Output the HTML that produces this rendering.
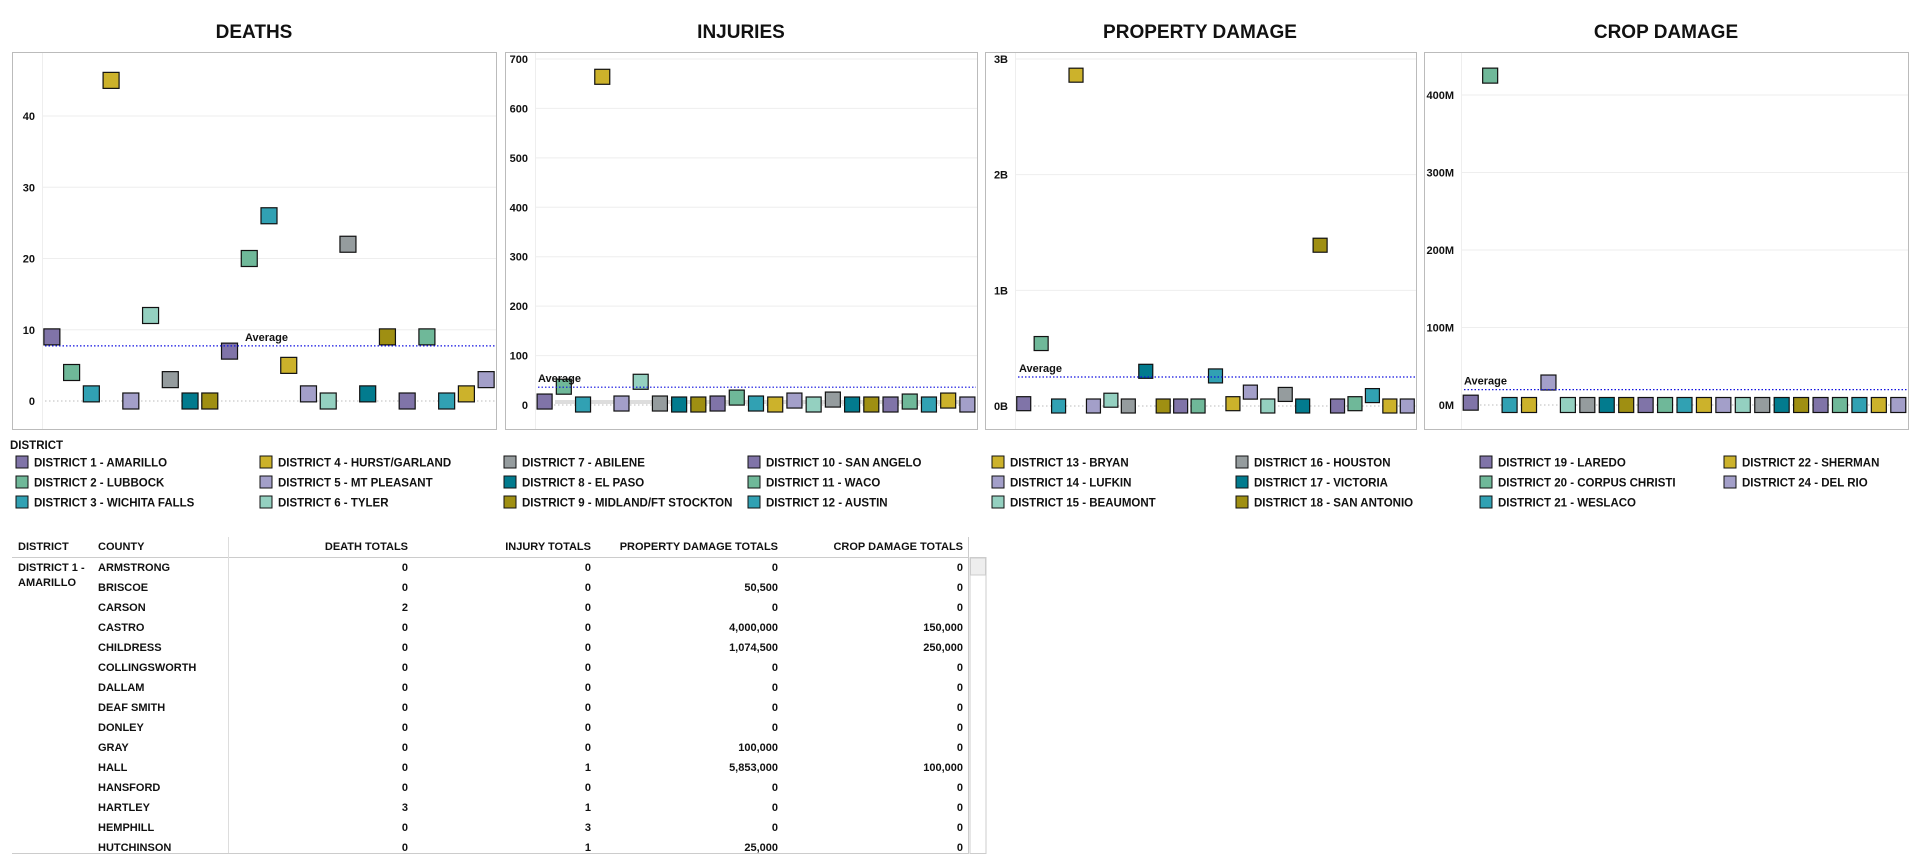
<!DOCTYPE html>
<html><head><meta charset="utf-8"><style>
body{margin:0;background:#fff;}
svg{display:block;font-family:"Liberation Sans",Arial,sans-serif;}
</style></head><body>
<svg id="s" width="1920" height="867" xmlns="http://www.w3.org/2000/svg"></svg>
<script>
const districts=["DISTRICT 1 - AMARILLO","DISTRICT 2 - LUBBOCK","DISTRICT 3 - WICHITA FALLS","DISTRICT 4 - HURST/GARLAND","DISTRICT 5 - MT PLEASANT","DISTRICT 6 - TYLER","DISTRICT 7 - ABILENE","DISTRICT 8 - EL PASO","DISTRICT 9 - MIDLAND/FT STOCKTON","DISTRICT 10 - SAN ANGELO","DISTRICT 11 - WACO","DISTRICT 12 - AUSTIN","DISTRICT 13 - BRYAN","DISTRICT 14 - LUFKIN","DISTRICT 15 - BEAUMONT","DISTRICT 16 - HOUSTON","DISTRICT 17 - VICTORIA","DISTRICT 18 - SAN ANTONIO","DISTRICT 19 - LAREDO","DISTRICT 20 - CORPUS CHRISTI","DISTRICT 21 - WESLACO","DISTRICT 22 - SHERMAN","DISTRICT 24 - DEL RIO"];
const districtColors=["#8074a8","#6fb899","#31a1b3","#ccb22b","#a39fc9","#94d0c0","#959c9e","#027b8e","#9f8f12","#8074a8","#6fb899","#31a1b3","#ccb22b","#a39fc9","#94d0c0","#959c9e","#027b8e","#9f8f12","#8074a8","#6fb899","#31a1b3","#ccb22b","#a39fc9"];
const deaths=[9,4,1,45,0,12,3,0,0,7,20,26,5,1,0,22,1,9,0,9,0,1,3];
const injuries=[7,37,1,664,3,47,3,1,1,3,15,3,1,9,1,11,1,1,1,7,1,9,1];
const propertyB=[0.02,0.54,0,2.86,0,0.05,0,0.30,0,0,0,0.26,0.02,0.12,0,0.10,0,1.39,0,0.02,0.09,0,0];
const cropM=[3,425,0,0,29,0,0,0,0,0,0,0,0,0,0,0,0,0,0,0,0,0,0];
const deathTicks=[0,10,20,30,40];
const injuryTicks=[0,100,200,300,400,500,600,700];
const propTicks=[0,1,2,3];const propTickLabels=["0B","1B","2B","3B"];
const cropTicks=[0,100,200,300,400];const cropTickLabels=["0M","100M","200M","300M","400M"];
const tableCounties=["ARMSTRONG","BRISCOE","CARSON","CASTRO","CHILDRESS","COLLINGSWORTH","DALLAM","DEAF SMITH","DONLEY","GRAY","HALL","HANSFORD","HARTLEY","HEMPHILL","HUTCHINSON"];
const tableDeaths=["0","0","2","0","0","0","0","0","0","0","0","0","3","0","0"];
const tableInjuries=["0","0","0","0","0","0","0","0","0","0","1","0","1","3","1"];
const tableProperty=["0","50,500","0","4,000,000","1,074,500","0","0","0","0","100,000","5,853,000","0","0","0","25,000"];
const tableCrop=["0","0","0","150,000","250,000","0","0","0","0","0","100,000","0","0","0","0"];

const S=document.getElementById('s');const NS="http://www.w3.org/2000/svg";
function mk(tag,attrs,parent){const e=document.createElementNS(NS,tag);for(const k in attrs)e.setAttribute(k,attrs[k]);(parent||S).appendChild(e);return e;}
function txt(x,y,str,size,anchor,parent){const t=mk('text',{x:x,y:y,'font-size':size,'font-weight':'bold','text-anchor':anchor||'start',fill:'#111'},parent);t.textContent=str;return t;}

const charts=[
 {name:'deaths',title:'DEATHS',tx:254,fx0:12,fx1:496,pl:42,zeroY:401,topV:40,topY:116,vals:deaths,ticks:deathTicks,labels:deathTicks.map(String),avgX:245,sq:16},
 {name:'injuries',title:'INJURIES',tx:741,fx0:505,fx1:977,pl:535,zeroY:405,topV:700,topY:59,vals:injuries,ticks:injuryTicks,labels:injuryTicks.map(String),avgX:538,sq:15,band:true},
 {name:'property-damage',title:'PROPERTY DAMAGE',tx:1200,fx0:985,fx1:1416,pl:1015,zeroY:406,topV:3,topY:59,vals:propertyB,ticks:propTicks,labels:propTickLabels,avgX:1019,sq:14},
 {name:'crop-damage',title:'CROP DAMAGE',tx:1666,fx0:1424,fx1:1908,pl:1461,zeroY:405,topV:400,topY:95,vals:cropM,ticks:cropTicks,labels:cropTickLabels,avgX:1464,sq:15}
];
charts.forEach(c=>{
 const g=mk('g',{});
 
 
 const t=txt(c.tx,38,c.title,19,'middle',g);
 
 
 const fr=mk('rect',{x:c.fx0+0.5,y:52.5,width:c.fx1-c.fx0,height:377,fill:'none',stroke:'#bbb','stroke-width':1},g);
 
 
 mk('line',{x1:c.pl+0.5,x2:c.pl+0.5,y1:53,y2:429,stroke:'#eee'},g);
 const y=v=>c.zeroY-v*(c.zeroY-c.topY)/c.topV;
 const band=(c.fx1-c.pl)/c.vals.length;
 const x=i=>c.pl+band*(i+0.5);
 c.ticks.forEach((tv,i)=>{
  const yy=y(tv);
  if(tv!==0)mk('line',{x1:c.pl,x2:c.fx1,y1:yy,y2:yy,stroke:'#eee'},g);
  else mk('line',{x1:c.pl+3,x2:c.fx1,y1:yy,y2:yy,stroke:'#bbb','stroke-dasharray':'1.5,2.5'},g);
  const l=txt(c.pl-7,yy+4,c.labels[i],11,'end',g);
  
  
 });
 if(c.band){const bb=mk('line',{x1:c.pl+20,x2:c.fx1-4,y1:y(0)-3,y2:y(0)-3,stroke:'#ddd','stroke-width':4},g);}
 const avg=c.vals.reduce((a,b)=>a+b,0)/c.vals.length;
 c.vals.forEach((v,i)=>{
  const r=mk('rect',{x:x(i)-c.sq/2,y:y(v)-c.sq/2,width:c.sq,height:c.sq,fill:districtColors[i],stroke:'#111','stroke-width':1.2},g);
  
  
 });
 const al=mk('line',{x1:c.pl+3,x2:c.fx1-1,y1:y(avg),y2:y(avg),stroke:'#1010e0','stroke-width':1.2,'stroke-dasharray':'1.5,2'},g);
 
 
 const at=txt(c.avgX,y(avg)-5,'Average',11,'start',g);
 
 
});

// legend
const lg=mk('g',{});


const lt=txt(10,449,'DISTRICT',11.5,'start',lg);


districts.forEach((d,i)=>{
 const col=Math.floor(i/3),row=i%3;
 const x0=16+244*col,yc=462+20*row;
 const e=mk('g',{},lg);
 
 
 mk('rect',{x:x0,y:yc-6,width:12,height:12,fill:districtColors[i],stroke:'#111','stroke-width':1},e);
 txt(x0+18,yc+4.5,d,11.5,'start',e);
});

// table
const tb=mk('g',{});


const hdr=[[18,'DISTRICT','start'],[98,'COUNTY','start'],[408,'DEATH TOTALS','end'],[591,'INJURY TOTALS','end'],[778,'PROPERTY DAMAGE TOTALS','end'],[963,'CROP DAMAGE TOTALS','end']];
hdr.forEach(h=>{const t=txt(h[0],550,h[1],11,h[2],tb);});
mk('line',{x1:12,x2:968,y1:557.5,y2:557.5,stroke:'#ccc'},tb);
mk('line',{x1:228.5,x2:228.5,y1:537,y2:854,stroke:'#ddd'},tb);
mk('line',{x1:12,x2:968,y1:853.5,y2:853.5,stroke:'#ccc'},tb);
mk('line',{x1:968.5,x2:968.5,y1:537,y2:854,stroke:'#ccc'},tb);
const sb=mk('rect',{x:970,y:557.5,width:16,height:296,fill:'#fff',stroke:'#ccc'},tb);


mk('rect',{x:970.5,y:558,width:15,height:17,fill:'#eee',stroke:'#ccc'},tb);
txt(18,571,'DISTRICT 1 -',11,'start',tb);
txt(18,586,'AMARILLO',11,'start',tb);
tableCounties.forEach((c,i)=>{
 const yy=571+20*i;
 const r=mk('g',{},tb);
 
 
 txt(98,yy,c,11,'start',r);
 txt(408,yy,tableDeaths[i],11,'end',r);
 txt(591,yy,tableInjuries[i],11,'end',r);
 txt(778,yy,tableProperty[i],11,'end',r);
 txt(963,yy,tableCrop[i],11,'end',r);
});
</script>
</body></html>
